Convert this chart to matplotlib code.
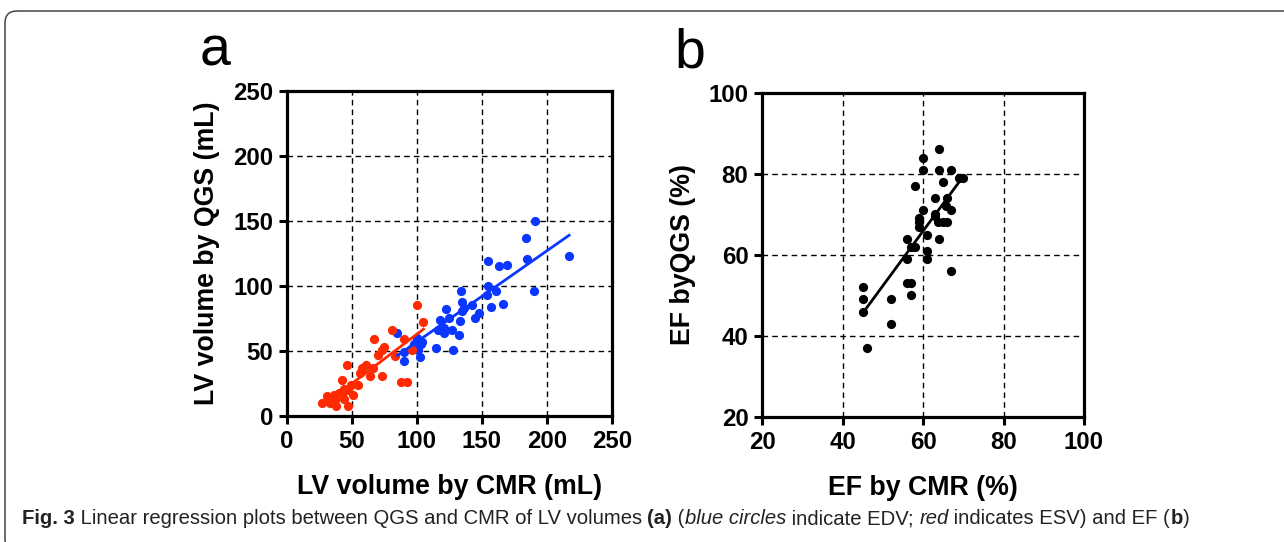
import matplotlib
matplotlib.use("Agg")
import matplotlib.pyplot as plt
import numpy as np
from matplotlib.patches import FancyBboxPatch

# panel a: LV volumes, CMR (x) vs QGS (y)
edv_cmr = [191, 184, 217, 185, 155, 163, 169, 155, 161, 190, 134, 154, 135, 142, 136, 166,
           157, 122, 148, 145, 135, 118, 125, 133, 116, 121, 127, 132, 121, 85, 100, 98,
           103, 101, 90, 90, 102, 115, 128, 104, 97]
edv_qgs = [150, 137, 123, 121, 119, 115, 116, 100, 96, 96, 96, 93, 88, 85, 83, 86,
           84, 82, 79, 75, 81, 74, 75, 73, 66, 64, 66, 62, 68, 64, 60, 55,
           55, 51, 49, 42, 45, 52, 51, 57, 53]
esv_cmr = [100, 105, 81, 67, 90, 75, 73, 70, 83, 96, 88, 92, 46, 61, 56, 64, 73, 66, 58,
           42, 55, 49, 44, 51, 42, 36, 31, 27, 33, 38, 47, 37, 44, 40, 47]
esv_qgs = [85, 72, 66, 59, 59, 53, 51, 47, 46, 51, 26, 26, 39, 39, 33, 31, 31, 37, 37,
           28, 24, 24, 21, 16, 17, 16, 15, 10, 10, 8, 8, 12, 13, 18, 20]

# panel b: EF, CMR (x) vs QGS (y)
ef_cmr = [64, 60, 60, 64, 67, 70, 69, 65, 58, 63, 66, 65.6, 67, 60, 63, 59, 59, 63.7, 65,
          66, 63, 59, 61, 56, 64, 57, 58, 61, 56, 61, 67, 56, 57, 57, 45, 45, 45, 52, 52, 46]
ef_qgs = [86, 84, 81, 81, 81, 79, 79, 78, 77, 74, 74, 72, 71, 71, 70, 69, 68, 68, 68,
          68, 69.5, 67, 65, 64, 64, 62, 62, 61, 59, 59, 56, 53, 53, 50, 52, 49, 46, 49, 43, 37]

# regression lines (slope, intercept)
edv_fit = (0.70, -12.9)
esv_fit = (0.76, -13.0)
ef_fit = (1.35, -15.1)

BLUE = "#0a36ff"
RED = "#ff2a00"
FONT = ["Liberation Sans", "DejaVu Sans"]

plt.rcParams["font.family"] = FONT

fig = plt.figure(figsize=(12.84, 5.42), dpi=100)

bg = fig.add_axes([0, 0, 1, 1], zorder=-5)
bg.set_xlim(0, 1284)
bg.set_ylim(542, 0)
bg.axis("off")
bg.add_patch(FancyBboxPatch((5, 11), 1320, 540, boxstyle="round,pad=0,rounding_size=12",
                            fc="white", ec="#444444", lw=1.1, clip_on=True))


def style_axes(ax, lim, ticks):
    ax.set_xlim(*lim)
    ax.set_ylim(*lim)
    ax.set_xticks(ticks)
    ax.set_yticks(ticks)
    for sp in ax.spines.values():
        sp.set_linewidth(2.3)
    ax.tick_params(direction="out", length=6, width=2.2, labelsize=17.3, pad=4)
    for lab in ax.get_xticklabels() + ax.get_yticklabels():
        lab.set_fontweight("bold")
    ax.grid(True, color="black", linestyle=(0, (4, 3)), linewidth=1.0)
    ax.set_axisbelow(True)


ax1 = fig.add_axes([0.2235, 0.2325, 0.2531, 0.5996])
style_axes(ax1, (0, 250), [0, 50, 100, 150, 200, 250])
ax1.scatter(edv_cmr, edv_qgs, s=44, color=BLUE, zorder=3, linewidths=0)
ax1.scatter(esv_cmr, esv_qgs, s=44, color=RED, zorder=3, linewidths=0)
xs = np.array([min(edv_cmr), max(edv_cmr)])
ax1.plot(xs, edv_fit[0] * xs + edv_fit[1], color=BLUE, lw=2.0, zorder=4)
xs = np.array([min(esv_cmr), max(esv_cmr)])
ax1.plot(xs, esv_fit[0] * xs + esv_fit[1], color=RED, lw=2.0, zorder=4)
ax1.set_xlabel("LV volume by CMR (mL)", fontsize=19.3, fontweight="bold", labelpad=15)
ax1.set_ylabel("LV volume by QGS (mL)", fontsize=19.3, fontweight="bold", labelpad=9)

ax2 = fig.add_axes([0.5937, 0.2306, 0.2505, 0.5983])
style_axes(ax2, (20, 100), [20, 40, 60, 80, 100])
ax2.scatter(ef_cmr, ef_qgs, s=44, color="black", zorder=3, linewidths=0)
xs = np.array([min(ef_cmr), max(ef_cmr)])
ax2.plot(xs, ef_fit[0] * xs + ef_fit[1], color="black", lw=2.0, zorder=4)
ax2.set_xlabel("EF by CMR (%)", fontsize=19.3, fontweight="bold", labelpad=15)
ax2.set_ylabel("EF byQGS (%)", fontsize=19.3, fontweight="bold", labelpad=9)

bg.text(215, 66, "a", fontsize=40, ha="center", va="baseline")
bg.text(690, 67, "b", fontsize=40, ha="center", va="baseline")

# caption with mixed styles
caption = [
    ("Fig. 3", "bold", "normal"),
    (" Linear regression plots between QGS and CMR of LV volumes ", "normal", "normal"),
    ("(a)", "bold", "normal"),
    (" (", "normal", "normal"),
    ("blue circles", "normal", "italic"),
    (" indicate EDV; ", "normal", "normal"),
    ("red", "normal", "italic"),
    (" indicates ESV) and EF (", "normal", "normal"),
    ("b", "bold", "normal"),
    (")", "normal", "normal"),
]
cap_font = ["Liberation Sans Narrow", "Liberation Sans", "DejaVu Sans"]
renderer = fig.canvas.get_renderer()
x = 22
for txt, weight, style in caption:
    t = bg.text(x, 519, txt, fontsize=14.6, fontweight=weight, fontstyle=style,
                family=cap_font, color="#222222", va="center", ha="left")
    x += t.get_window_extent(renderer).width

fig.savefig("out.png", dpi=100)
